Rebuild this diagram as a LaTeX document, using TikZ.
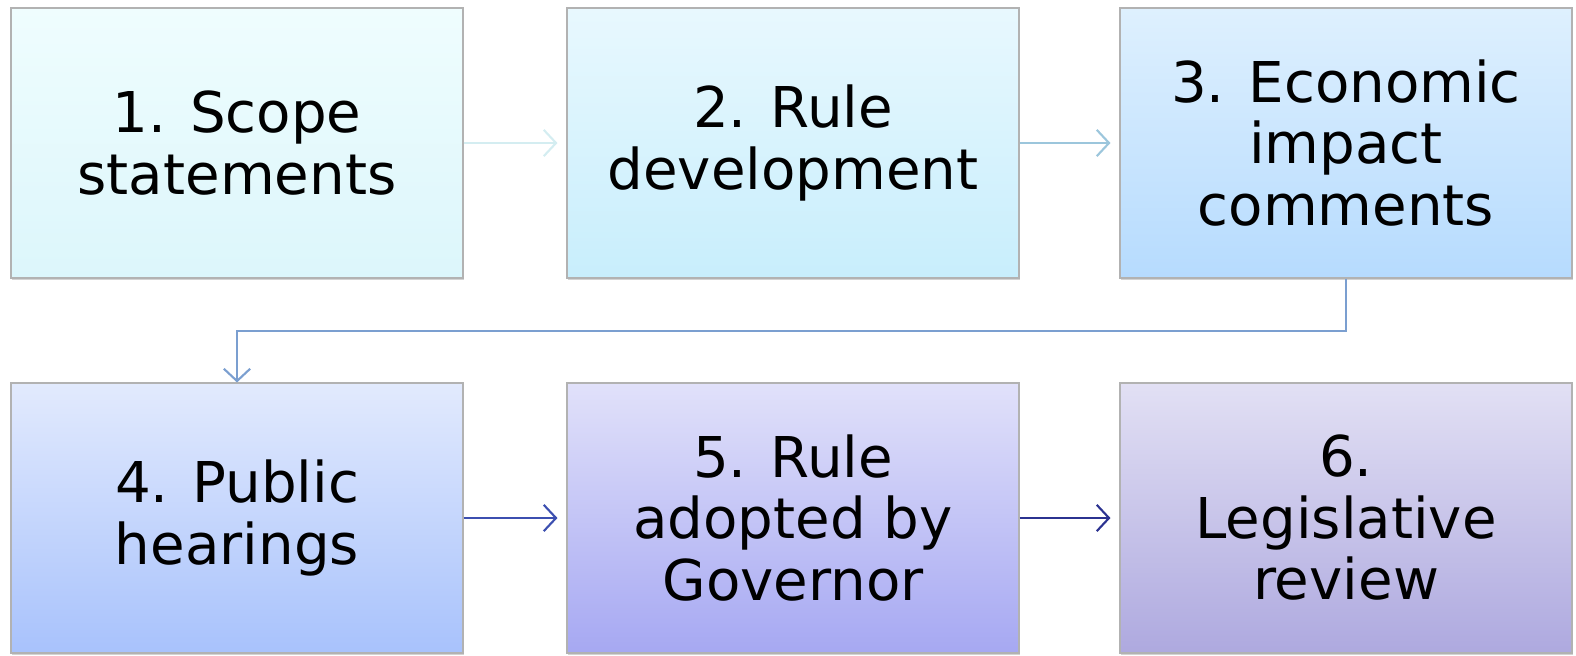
\documentclass[tikz,border=0pt]{standalone}
\usepackage{fontspec}
\setmainfont{DejaVu Sans}
\usepackage{tikz}
\usetikzlibrary{arrows.meta}
\usetikzlibrary{shadows}
\definecolor{cA1}{HTML}{EFFDFE}\definecolor{cA2}{HTML}{DCF6FB}
\definecolor{cB1}{HTML}{E8F8FE}\definecolor{cB2}{HTML}{C8EEFC}
\definecolor{cC1}{HTML}{DEF0FE}\definecolor{cC2}{HTML}{B6DBFE}
\definecolor{cD1}{HTML}{E2EAFD}\definecolor{cD2}{HTML}{A8C2FC}
\definecolor{cE1}{HTML}{E1E1FA}\definecolor{cE2}{HTML}{A6A8F2}
\definecolor{cF1}{HTML}{E2E0F4}\definecolor{cF2}{HTML}{AEA9DF}
\definecolor{arA}{HTML}{D4EDF1}\definecolor{arB}{HTML}{9CC6DC}
\definecolor{arC}{HTML}{7B9FD0}\definecolor{arD}{HTML}{3C4FB0}
\definecolor{arE}{HTML}{2B3290}
\tikzstyle{stepbox}=[draw=gray!60, line width=0.6pt, minimum width=9.04cm, minimum height=5.4cm,
  inner sep=0pt, align=center, font=\fontsize{32}{35}\selectfont,
  drop shadow={shadow xshift=0.6pt, shadow yshift=-1.2pt, opacity=0.35}]
\tikzstyle{flow}=[line width=1.2pt, -{Straight Barb[length=7pt, width=15pt, line width=1.2pt]}]

\begin{document}
\begin{tikzpicture}
        \useasboundingbox (0, 0) rectangle (31.52, -13.1);
        \node[stepbox, top color=cA1, bottom color=cA2] (scope) at (4.74, -2.86) {1. Scope\\statements};
        \node[stepbox, top color=cB1, bottom color=cB2] (develop) at (15.86, -2.86) {2. Rule\\development};
        \node[stepbox, top color=cC1, bottom color=cC2] (impact) at (26.92, -2.86) {3. Economic\\impact\\comments};
        \node[stepbox, top color=cD1, bottom color=cD2] (hearing) at (4.74, -10.36) {4. Public\\hearings};
        \node[stepbox, top color=cE1, bottom color=cE2] (adopt) at (15.86, -10.36) {5. Rule\\adopted by\\Governor};
        \node[stepbox, top color=cF1, bottom color=cF2] (review) at (26.92, -10.36) {6.\\Legislative\\review};
        \draw[flow, arA] (scope.east) -- ([xshift=-0.18cm]develop.west);
        \draw[flow, arB] (develop.east) -- ([xshift=-0.18cm]impact.west);
        \draw[flow, arC] (impact.south) |- (4.74, -6.62) -- (hearing.north);
        \draw[flow, arD] (hearing.east) -- ([xshift=-0.18cm]adopt.west);
        \draw[flow, arE] (adopt.east) -- ([xshift=-0.18cm]review.west);
    \end{tikzpicture}
\end{document}
